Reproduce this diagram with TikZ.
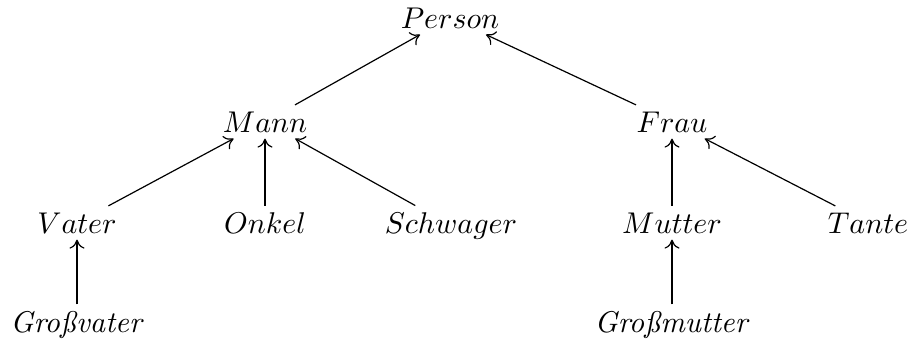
\documentclass[tikz,border=0pt]{standalone}
\usetikzlibrary{arrows.meta}
\begin{document}
\begin{tikzpicture}[x=0.3333pt, y=-0.3333pt,
  term/.style={anchor=base, inner sep=2pt, font=\fontsize{10}{12}\selectfont},
  isa/.style={-{Computer Modern Rightarrow[length=3pt,width=5pt]}, line width=0.4pt}]
  \useasboundingbox (0,0) rectangle (908,341);
  % concept hierarchy
  \node[term] (person)  at (450,28)  {$Person$};
  \node[term] (mann)    at (265,132) {$Mann$};
  \node[term] (frau)    at (672,132) {$Frau$};
  \node[term] (vater)   at (77,233)  {$Vater$};
  \node[term] (onkel)   at (265,233) {$Onkel$};
  \node[term] (schwager) at (451,233) {$Schwager$};
  \node[term] (mutter)  at (672,233) {$Mutter$};
  \node[term] (tante)   at (868,233) {$Tante$};
  \node[term] (gvater)  at (77,332)  {\textit{Großvater}};
  \node[term] (gmutter) at (672,332) {\textit{Großmutter}};
  % is-a links
  \draw[isa] (mann) -- (person);
  \draw[isa] (frau) -- (person);
  \draw[isa] (vater) -- (mann);
  \draw[isa] (onkel) -- (mann);
  \draw[isa] (schwager) -- (mann);
  \draw[isa] (mutter) -- (frau);
  \draw[isa] (tante) -- (frau);
  \draw[isa] (gvater) -- (vater);
  \draw[isa] (gmutter) -- (mutter);
\end{tikzpicture}
\end{document}
